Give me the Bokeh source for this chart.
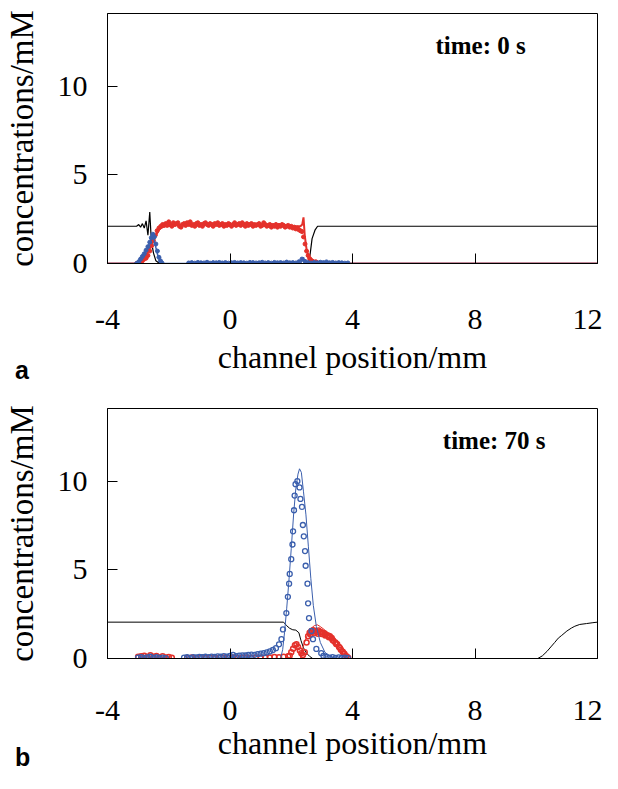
from bokeh.plotting import figure
from bokeh.models import Range1d, Label, FixedTicker, Div
from bokeh.layouts import column
from bokeh.embed import file_html
from bokeh.resources import INLINE

RED = "#e4312b"
BLUE = "#3b5fad"
SERIF = "Liberation Serif"

x_ticks = [-4, 0, 4, 8, 12]
x_tick_text = {-4: "-4", 0: "0", 4: "4", 8: "8", 12: "12"}
y_ticks = [0, 5, 10]
x_label = "channel position/mm"
y_label = "concentrations/mM"

# ---------------- panel a : time 0 s ----------------
a_black_x = [-4, -3.05, -2.98, -2.92, -2.86, -2.8, -2.74, -2.68, -2.62, -2.57, -2.5, -2.42, -2.3, 2.55, 2.6, 2.68, 2.78, 2.86, 12]
a_black_y = [2.1, 2.1, 2.2, 2.05, 2.25, 2.0, 2.4, 1.6, 2.9, 1.3, 0.6, 0.15, 0.0, 0.0, 0.3, 1.4, 1.9, 2.1, 2.1]

a_red_line_x = [-4, -3.05, -2.9, -2.75, -2.6, -2.45, -2.3, -2.15, -1.5, -1.0, -0.5, 0.0, 0.5, 1.0, 1.5, 2.0, 2.3, 2.36, 2.4, 2.44, 2.5, 2.58, 2.7, 2.85, 12]
a_red_line_y = [0, 0, 0.15, 0.45, 0.9, 1.5, 1.95, 2.1, 2.2, 2.15, 2.2, 2.15, 2.2, 2.15, 2.1, 2.1, 2.1, 2.2, 2.6, 1.6, 0.8, 0.3, 0.08, 0, 0]

a_red_rise_x = [-3.05, -2.98, -2.92, -2.86, -2.8, -2.74, -2.68, -2.62, -2.56, -2.5, -2.44, -2.38, -2.32, -2.26, -2.2, -2.15]
a_red_rise_y = [0.0, 0.05, 0.1, 0.15, 0.25, 0.3, 0.45, 0.7, 1.0, 1.3, 1.6, 1.85, 2.0, 2.1, 2.2, 2.15]

a_red_plateau_x = [-2.10, -2.05, -2.00, -1.95, -1.90, -1.85, -1.80, -1.75, -1.70, -1.65,
                   -1.60, -1.55, -1.50, -1.45, -1.40, -1.35, -1.30, -1.25, -1.20, -1.15,
                   -1.10, -1.05, -1.00, -0.95, -0.90, -0.85, -0.80, -0.75, -0.70, -0.65,
                   -0.60, -0.55, -0.50, -0.45, -0.40, -0.35, -0.30, -0.25, -0.20, -0.15,
                   -0.10, -0.05, 0.00, 0.05, 0.10, 0.15, 0.20, 0.25, 0.30, 0.35,
                   0.40, 0.45, 0.50, 0.55, 0.60, 0.65, 0.70, 0.75, 0.80, 0.85,
                   0.90, 0.95, 1.00, 1.05, 1.10, 1.15, 1.20, 1.25, 1.30, 1.35,
                   1.40, 1.45, 1.50, 1.55, 1.60, 1.65, 1.70, 1.75, 1.80, 1.85,
                   1.90, 1.95, 2.00, 2.05, 2.10, 2.15, 2.20, 2.25, 2.30]
a_red_plateau_y = [2.25, 2.15, 2.35, 2.20, 2.10, 2.30, 2.20, 2.25, 2.30, 2.10,
                   2.05, 2.20, 2.25, 2.15, 2.30, 2.20, 2.35, 2.15, 2.20, 2.10,
                   2.25, 2.30, 2.15, 2.20, 2.10, 2.25, 2.30, 2.20, 2.15, 2.25,
                   2.20, 2.10, 2.25, 2.20, 2.30, 2.15, 2.20, 2.25, 2.10, 2.20,
                   2.15, 2.25, 2.20, 2.10, 2.20, 2.30, 2.15, 2.20, 2.25, 2.15,
                   2.30, 2.20, 2.10, 2.25, 2.15, 2.20, 2.25, 2.10, 2.20, 2.15,
                   2.20, 2.25, 2.10, 2.15, 2.30, 2.20, 2.10, 2.15, 2.20, 2.05,
                   2.15, 2.10, 2.20, 2.05, 2.15, 2.10, 2.20, 2.15, 2.05, 2.10,
                   2.15, 2.05, 2.10, 2.00, 2.05, 1.95, 2.00, 1.90, 1.85]

a_red_fall_x = [2.35, 2.4, 2.45, 2.5, 2.55, 2.6, 2.65, 2.7, 2.75, 2.8, 2.85, 2.9]
a_red_fall_y = [1.8, 1.5, 1.1, 0.7, 0.45, 0.28, 0.18, 0.12, 0.06, 0.1, 0.04, 0.0]

a_blue_line_x = [-4, -3.0, -2.85, -2.7, -2.6, -2.55, -2.5, -2.42, -2.35, -2.25, 2.3, 2.35, 2.4, 2.45, 2.5, 12]
a_blue_line_y = [0, 0, 0.3, 0.8, 1.3, 1.6, 1.5, 0.9, 0.4, 0, 0, 0.15, 0.35, 0.05, 0, 0]

a_blue_peak_x = [-3.05, -2.98, -2.92, -2.86, -2.8, -2.74, -2.68, -2.62, -2.57, -2.52, -2.47, -2.42, -2.37, -2.32, -2.27, -2.22]
a_blue_peak_y = [0.0, 0.1, 0.25, 0.4, 0.55, 0.75, 0.95, 1.2, 1.45, 1.65, 1.5, 1.1, 0.7, 0.35, 0.15, 0.03]

a_blue_flat_x = [-1.35, -1.25, -1.15, -1.05, -0.95, -0.85, -0.75, -0.65, -0.55, -0.45,
                 -0.35, -0.25, -0.15, -0.05, 0.05, 0.15, 0.25, 0.35, 0.45, 0.55,
                 0.65, 0.75, 0.85, 0.95, 1.05, 1.15, 1.25, 1.35, 1.45, 1.55,
                 1.65, 1.75, 1.85, 1.95, 2.05, 2.15, 2.25, 2.35, 2.45, 2.55,
                 2.65, 2.75, 2.85, 2.95, 3.05, 3.15, 3.25, 3.35, 3.45, 3.55,
                 3.65, 3.75, 3.85]
a_blue_flat_y = [0.03, 0.05, 0.02, 0.06, 0.04, 0.03, 0.07, 0.02, 0.05, 0.04,
                 0.06, 0.03, 0.05, 0.02, 0.04, 0.06, 0.03, 0.05, 0.04, 0.02,
                 0.06, 0.05, 0.03, 0.04, 0.07, 0.03, 0.05, 0.02, 0.06, 0.04,
                 0.05, 0.03, 0.08, 0.04, 0.05, 0.03, 0.10, 0.25, 0.12, 0.05,
                 0.03, 0.06, 0.04, 0.07, 0.05, 0.09, 0.04, 0.06, 0.03, 0.05,
                 0.04, 0.02, 0.03]

# ---------------- panel b : time 70 s ----------------
b_black_x = [-4, 1.75, 1.85, 1.95, 2.05, 2.15, 2.25, 2.32, 2.4, 2.5, 2.6, 2.7,
             10.05, 10.2, 10.35, 10.5, 10.6, 10.72, 10.83, 11.0, 11.15, 11.26, 11.42, 11.64, 11.85, 12]
b_black_y = [2.05, 2.05, 1.85, 1.7, 1.62, 1.6, 1.45, 1.0, 0.6, 0.3, 0.12, 0.0,
             0.0, 0.15, 0.4, 0.7, 0.9, 1.15, 1.3, 1.55, 1.72, 1.82, 1.92, 1.97, 2.02, 2.05]

b_blue_line_x = [-4, 1.65, 1.72, 1.78, 1.85, 1.92, 2.0, 2.08, 2.15, 2.22, 2.27, 2.33, 2.4, 2.48, 2.56, 2.64, 2.72, 2.82, 2.95, 3.1, 3.3, 3.5, 12]
b_blue_line_y = [0, 0, 0.5, 1.45, 2.8, 4.3, 6.2, 8.2, 9.6, 10.4, 10.7, 10.5, 9.4, 8.1, 6.3, 4.5, 3.0, 1.8, 0.9, 0.35, 0.08, 0, 0]

b_red_line_x = [-4, 2.3, 2.38, 2.45, 2.55, 2.65, 2.75, 2.85, 2.95, 3.1, 3.25, 3.4, 3.55, 3.7, 3.82, 3.9, 12]
b_red_line_y = [0, 0, 0.6, 1.0, 1.4, 1.7, 1.85, 1.9, 1.8, 1.6, 1.3, 0.95, 0.55, 0.25, 0.05, 0, 0]

b_blue_pts_x = [-3.0, -2.9, -2.8, -2.7, -2.6, -2.5, -2.4, -2.3, -2.2, -2.1,
                -1.5, -1.4, -1.3, -1.2, -1.1, -1.0, -0.9, -0.8, -0.7, -0.6,
                -0.5, -0.4, -0.3, -0.2, -0.1, 0.0, 0.1, 0.2, 0.3, 0.4,
                0.5, 0.6, 0.7, 0.8, 0.9, 1.0, 1.1, 1.2, 1.3, 1.4,
                1.5, 1.6, 1.68, 1.73, 1.84, 1.89, 1.93, 1.95, 2.0, 2.04,
                2.06, 2.09, 2.11, 2.14, 2.2, 2.27, 2.3, 2.35, 2.38, 2.41,
                2.45, 2.47, 2.53, 2.55, 2.58, 2.66, 2.71, 2.82, 2.98, 3.05,
                3.15, 3.25, 3.35, 3.45, 3.55, 3.65, 3.75, 3.85]
b_blue_pts_y = [0.05, 0.08, 0.03, 0.06, 0.1, 0.04, 0.07, 0.03, 0.05, 0.02,
                0.05, 0.07, 0.04, 0.08, 0.06, 0.09, 0.07, 0.1, 0.08, 0.11,
                0.09, 0.12, 0.1, 0.13, 0.11, 0.14, 0.2, 0.13, 0.16, 0.18,
                0.17, 0.2, 0.22, 0.21, 0.25, 0.27, 0.3, 0.34, 0.4, 0.48,
                0.58, 0.8, 1.09, 1.64, 2.56, 3.48, 4.22, 4.77, 5.6, 6.43,
                7.17, 8.36, 9.19, 9.83, 10.0, 9.65, 9.0, 8.55, 7.53, 6.89,
                6.06, 5.23, 4.22, 3.11, 2.28, 1.55, 1.09, 0.54, 0.3, 0.15,
                0.1, 0.05, 0.08, 0.04, 0.06, 0.03, 0.05, 0.02]

b_red_pts_x = [-3.0, -2.9, -2.8, -2.7, -2.6, -2.5, -2.4, -2.3, -2.2, -2.1, -2.0, -1.9,
               -1.4, -1.25, -1.1, -0.95, -0.8, -0.65, -0.5, -0.35, -0.2, -0.05, 0.1, 0.25,
               0.4, 0.55, 0.7, 0.85, 1.0, 1.15, 1.3, 1.45, 1.6, 1.75, 1.9,
               1.95, 2.0, 2.06, 2.12, 2.17, 2.22, 2.28, 2.33, 2.38, 2.44, 2.5, 2.55,
               2.6, 2.66, 2.72, 2.78, 2.84, 2.9, 2.96, 3.02, 3.08, 3.14, 3.2, 3.26,
               3.32, 3.38, 3.44, 3.5, 3.56, 3.62, 3.68, 3.74, 3.8, 3.86,
               2.63, 2.75, 2.87, 2.99, 3.11, 3.23, 3.35, 3.47, 3.59, 3.71]
b_red_pts_y = [0.1, 0.12, 0.15, 0.08, 0.18, 0.1, 0.14, 0.06, 0.12, 0.05, 0.08, 0.04,
               0.03, 0.05, 0.02, 0.06, 0.03, 0.05, 0.02, 0.04, 0.06, 0.03, 0.05, 0.02,
               0.04, 0.06, 0.03, 0.05, 0.04, 0.06, 0.05, 0.08, 0.07, 0.1, 0.12,
               0.15, 0.35, 0.55, 0.75, 0.8, 0.65, 0.45, 0.3, 0.2, 0.35, 0.9, 1.25,
               1.45, 1.55, 1.6, 1.55, 1.5, 1.58, 1.5, 1.45, 1.42, 1.35, 1.3, 1.25,
               1.15, 1.0, 0.9, 0.8, 0.65, 0.5, 0.38, 0.25, 0.12, 0.05,
               1.35, 1.45, 1.4, 1.38, 1.3, 1.2, 1.05, 0.82, 0.6, 0.3]


def base_figure(height, border_top, border_bottom, ymax, tick_standoff, label_standoff):
    p = figure(width=602, height=height,
               min_border_left=107, min_border_right=5, min_border_top=border_top,
               min_border_bottom=border_bottom,
               x_range=Range1d(-4, 12), y_range=Range1d(0, ymax),
               output_backend="svg", toolbar_location=None)
    p.grid.visible = False
    p.outline_line_color = "black"
    p.outline_line_width = 1
    p.background_fill_color = "white"
    p.border_fill_color = "white"
    for ax in (p.xaxis[0], p.yaxis[0]):
        ax.major_tick_in = 10
        ax.major_tick_out = 0
        ax.minor_tick_line_color = None
        ax.major_tick_line_color = "black"
        ax.axis_line_color = "black"
        ax.major_label_text_font = SERIF
        ax.major_label_text_font_size = "30px"
        ax.major_label_text_color = "black"
        ax.axis_label_text_font = SERIF
        ax.axis_label_text_font_style = "normal"
        ax.axis_label_text_color = "black"
    p.xaxis.ticker = FixedTicker(ticks=x_ticks)
    p.xaxis.major_label_overrides = x_tick_text
    p.yaxis.ticker = FixedTicker(ticks=y_ticks)
    p.xaxis.axis_label = x_label
    p.yaxis.axis_label = y_label
    p.xaxis.axis_label_text_font_size = "32px"
    p.yaxis.axis_label_text_font_size = "33px"
    p.yaxis.major_label_standoff = 20
    p.yaxis.axis_label_standoff = 15
    p.xaxis.major_label_standoff = tick_standoff
    p.xaxis.axis_label_standoff = label_standoff
    return p


def panel_letter(text, left, top):
    html = ('<span style="font-family: \'Liberation Sans\', Arial, sans-serif; '
            'font-weight: bold; font-size: 25px; line-height: 28px; color: black;">'
            + text + '</span>')
    return Div(text=html, width=26, height=30,
               styles={"position": "absolute", "left": f"{left}px", "top": f"{top}px",
                       "margin": "0", "padding": "0"})


# panel a
pa = base_figure(396, 13, 133, 14.1, 46, 7)
pa.line(a_black_x, a_black_y, line_color="black", line_width=1.2)
pa.line(a_red_line_x, a_red_line_y, line_color=RED, line_width=2)
pa.scatter(a_red_rise_x, a_red_rise_y, marker="circle", size=4, color=RED)
pa.scatter(a_red_plateau_x, a_red_plateau_y, marker="circle", size=4, color=RED)
pa.scatter(a_red_fall_x, a_red_fall_y, marker="circle", size=4, color=RED)
pa.scatter(a_blue_peak_x, a_blue_peak_y, marker="circle", size=4, color=BLUE)
pa.scatter(a_blue_flat_x, a_blue_flat_y, marker="circle", size=4, color=BLUE)
pa.line(a_blue_line_x, a_blue_line_y, line_color=BLUE, line_width=1.5)
pa.add_layout(Label(x=6.71, y=12.3, text="time: 0 s", text_font=SERIF,
                    text_font_size="25px", text_font_style="bold", text_baseline="middle",
                    text_align="left", text_color="black"))

# panel b
pb = base_figure(377, 12, 115, 14.1, 42, 2)
pb.line(b_black_x, b_black_y, line_color="black", line_width=1)
pb.line(b_red_line_x, b_red_line_y, line_color=RED, line_width=1)
pb.scatter(b_red_pts_x, b_red_pts_y, marker="circle", size=5, fill_color=None,
           line_color=RED, line_width=1.5)
pb.scatter(b_blue_pts_x, b_blue_pts_y, marker="circle", size=5, fill_color=None,
           line_color=BLUE, line_width=1.3)
pb.line(b_blue_line_x, b_blue_line_y, line_color=BLUE, line_width=1)
pb.add_layout(Label(x=6.95, y=12.3, text="time: 70 s", text_font=SERIF,
                    text_font_size="25px", text_font_style="bold", text_baseline="middle",
                    text_align="left", text_color="black"))

div_a = panel_letter("a", 15, 356)
div_b = panel_letter("b", 15, 743)

layout = column(pa, pb, div_a, div_b, spacing=0)
open("out.html", "w").write(file_html(layout, INLINE))
